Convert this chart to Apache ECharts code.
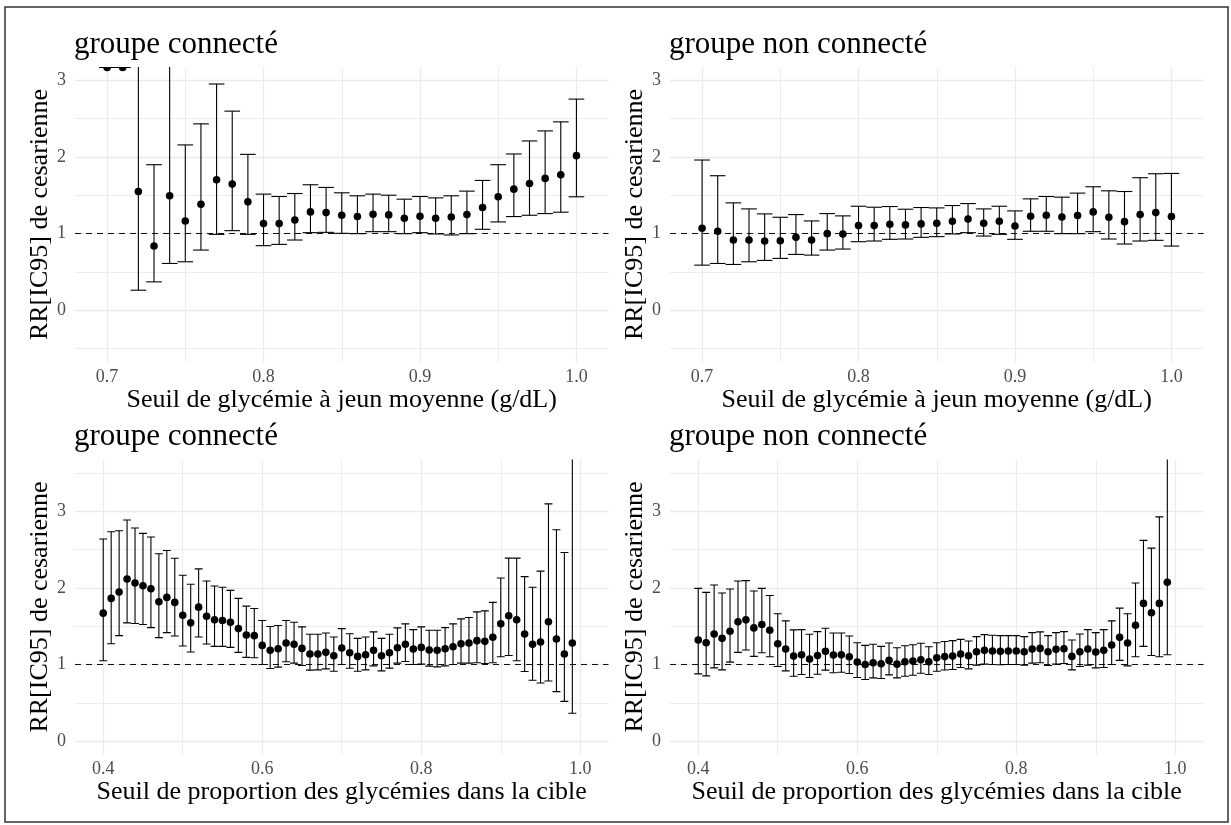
<!DOCTYPE html>
<html><head><meta charset="utf-8">
<script src="https://cdn.jsdelivr.net/npm/echarts@6/dist/echarts.min.js"></script>
<style>html,body{margin:0;padding:0;background:#fff}#c{width:1231px;height:825px}</style>
</head><body><div id="c"></div>
<script>
// ---------- data ----------
const xGly = [0.70,0.71,0.72,0.73,0.74,0.75,0.76,0.77,0.78,0.79,0.80,0.81,0.82,0.83,0.84,0.85,0.86,0.87,0.88,0.89,0.90,0.91,0.92,0.93,0.94,0.95,0.96,0.97,0.98,0.99,1.00];
const xProp = [0.40,0.41,0.42,0.43,0.44,0.45,0.46,0.47,0.48,0.49,0.50,0.51,0.52,0.53,0.54,0.55,0.56,0.57,0.58,0.59,0.60,0.61,0.62,0.63,0.64,0.65,0.66,0.67,0.68,0.69,0.70,0.71,0.72,0.73,0.74,0.75,0.76,0.77,0.78,0.79,0.80,0.81,0.82,0.83,0.84,0.85,0.86,0.87,0.88,0.89,0.90,0.91,0.92,0.93,0.94,0.95,0.96,0.97,0.98,0.99];

// glycémie à jeun – groupe connecté
const rrConnGly = [3.17,3.17,1.55,0.838,1.494,1.166,1.384,1.703,1.647,1.415,1.131,1.131,1.179,1.284,1.275,1.240,1.223,1.253,1.245,1.201,1.227,1.201,1.218,1.249,1.341,1.481,1.581,1.655,1.721,1.769,2.018];
const loConnGly = [3.17,3.17,0.262,0.371,0.611,0.633,0.786,0.991,1.039,0.991,0.843,0.860,0.917,1.013,1.017,1.004,1.0,1.026,1.026,1.0,1.013,0.996,0.983,1.0,1.057,1.153,1.223,1.240,1.262,1.280,1.481];
const hiConnGly = [3.17,3.17,9.2,1.90,3.65,2.158,2.433,2.953,2.599,2.035,1.516,1.485,1.524,1.638,1.603,1.533,1.494,1.516,1.502,1.450,1.485,1.467,1.494,1.555,1.695,1.900,2.040,2.210,2.341,2.459,2.756];

// glycémie à jeun – groupe non connecté
const rrNonGly = [1.070,1.031,0.917,0.917,0.904,0.908,0.952,0.917,1.0,0.996,1.105,1.105,1.122,1.114,1.127,1.135,1.162,1.192,1.135,1.162,1.100,1.227,1.240,1.218,1.236,1.284,1.214,1.157,1.249,1.275,1.223];
const loNonGly = [0.589,0.611,0.598,0.633,0.651,0.677,0.729,0.720,0.786,0.799,0.895,0.904,0.926,0.930,0.952,0.961,0.996,1.013,0.969,0.991,0.926,1.031,1.031,1.0,1.0,1.026,0.930,0.865,0.904,0.913,0.838];
const hiNonGly = [1.961,1.756,1.402,1.323,1.258,1.214,1.249,1.166,1.262,1.232,1.358,1.345,1.354,1.319,1.341,1.336,1.367,1.393,1.323,1.358,1.297,1.454,1.485,1.476,1.529,1.612,1.559,1.550,1.730,1.782,1.786];

// proportion dans la cible – groupe connecté
const rrConnProp = [1.670,1.862,1.945,2.116,2.063,2.028,1.989,1.818,1.875,1.810, 1.643,1.543,1.748,1.630,1.582,1.573,1.551,1.468,1.385,1.376, 1.249,1.184,1.206,1.280,1.263,1.210,1.136,1.136,1.158,1.114, 1.214,1.153,1.105,1.127,1.184,1.114,1.153,1.219,1.263,1.201, 1.223,1.188,1.184,1.206,1.232,1.271,1.280,1.311,1.302,1.355, 1.530,1.635,1.583,1.398,1.263,1.294,1.557,1.333,1.136,1.280];
const loConnProp = [1.048,1.271,1.376,1.543,1.534,1.521,1.481,1.350,1.416,1.372, 1.241,1.162,1.359,1.267,1.236,1.236,1.223,1.158,1.092,1.088, 1.0,0.947,0.965,1.035,1.018,0.987,0.926,0.930,0.943,0.912, 1.0,0.950,0.912,0.930,0.982,0.917,0.952,1.018,1.039,1.0, 1.004,0.978,0.969,0.982,1.0,1.018,1.018,1.022,1.013,1.022, 1.101,1.118,1.048,0.908,0.794,0.759,0.785,0.645,0.518,0.364];
const hiConnProp = [2.637,2.733,2.746,2.886,2.781,2.711,2.663,2.444,2.488,2.387, 2.164,2.046,2.247,2.090,2.024,2.007,1.967,1.862,1.761,1.731, 1.573,1.495,1.508,1.573,1.551,1.490,1.394,1.394,1.411,1.359, 1.468,1.400,1.341,1.359,1.425,1.341,1.394,1.477,1.530,1.455, 1.490,1.446,1.446,1.481,1.530,1.595,1.613,1.687,1.700,1.810, 2.129,2.388,2.388,2.147,2.007,2.218,3.096,2.759,2.461,4.5];

// proportion dans la cible – groupe non connecté
const rrNonProp = [1.319,1.284,1.398,1.341,1.433,1.556,1.582,1.477,1.521,1.446, 1.271,1.201,1.109,1.127,1.070,1.118,1.171,1.123,1.127,1.101, 1.031,1.0,1.022,1.009,1.053,1.004,1.035,1.044,1.061,1.035, 1.088,1.103,1.109,1.136,1.114,1.166,1.184,1.175,1.171,1.175, 1.175,1.166,1.201,1.210,1.166,1.197,1.206,1.105,1.166,1.201, 1.162,1.184,1.254,1.354,1.280,1.512,1.797,1.674,1.797,2.072];
const loNonProp = [0.877,0.851,0.956,0.930,1.031,1.158,1.188,1.105,1.153,1.101, 0.974,0.917,0.847,0.869,0.829,0.873,0.926,0.891,0.899,0.882, 0.829,0.803,0.825,0.816,0.864,0.825,0.847,0.860,0.886,0.869, 0.912,0.928,0.934,0.961,0.943,0.991,1.004,1.0,0.996,1.0, 1.0,0.991,1.018,1.022,0.987,1.004,1.013,0.930,0.974,0.991, 0.956,0.961,1.0,1.053,0.982,1.101,1.236,1.118,1.101,1.127];
const hiNonProp = [1.993,1.941,2.037,1.932,1.985,2.090,2.094,1.958,1.993,1.901, 1.661,1.569,1.451,1.455,1.394,1.429,1.473,1.411,1.411,1.372, 1.284,1.249,1.263,1.236,1.280,1.219,1.245,1.258,1.276,1.232, 1.284,1.300,1.311,1.328,1.306,1.363,1.389,1.381,1.376,1.376, 1.376,1.363,1.416,1.425,1.376,1.416,1.429,1.319,1.398,1.455, 1.416,1.455,1.569,1.735,1.661,2.063,2.619,2.519,2.926,3.81];

// ticks / grid lines
const yTicks = [0, 1, 2, 3];
const yMinorTop = [-0.5, 0.5, 1.5, 2.5];
const yMinorBottom = [0.5, 1.5, 2.5, 3.5];
const xTicksGly = [0.7, 0.8, 0.9, 1.0];
const xMinorGly = [0.75, 0.85, 0.95];
const xTicksProp = [0.4, 0.6, 0.8, 1.0];
const xMinorProp = [0.5, 0.7, 0.9];
const refLine = 1;

const titles = ['groupe connecté', 'groupe non connecté', 'groupe connecté', 'groupe non connecté'];
const xTitleGly = 'Seuil de glycémie à jeun moyenne (g/dL)';
const xTitleProp = 'Seuil de proportion des glycémies dans la cible';
const yTitle = 'RR[IC95] de cesarienne';

// ---------- layout / style ----------
const F = 'Liberation Serif';
const CAP = 0.01; // errorbar width in data units
const panels = [
  {left: 75,  top: 67,    xs: xGly,  rr: rrConnGly,  lo: loConnGly,  hi: hiConnGly,  xr: [0.6795, 1.0205], yr: [-0.675, 3.175], xt: xTicksGly,  xm: xMinorGly,  ym: yMinorTop,    xname: xTitleGly},
  {left: 670, top: 67,    xs: xGly,  rr: rrNonGly,   lo: loNonGly,   hi: hiNonGly,   xr: [0.6795, 1.0205], yr: [-0.675, 3.175], xt: xTicksGly,  xm: xMinorGly,  ym: yMinorTop,    xname: xTitleGly},
  {left: 75,  top: 459.5, xs: xProp, rr: rrConnProp, lo: loConnProp, hi: hiConnProp, xr: [0.3645, 1.0355], yr: [-0.175, 3.675], xt: xTicksProp, xm: xMinorProp, ym: yMinorBottom, xname: xTitleProp},
  {left: 670, top: 459.5, xs: xProp, rr: rrNonProp,  lo: loNonProp,  hi: hiNonProp,  xr: [0.3645, 1.0355], yr: [-0.175, 3.675], xt: xTicksProp, xm: xMinorProp, ym: yMinorBottom, xname: xTitleProp}
];
const PW = 533.5, PH = 295;

function renderItem(params, api) {
  const x = api.value(0), m = api.value(1), lo = api.value(2), hi = api.value(3);
  const pM = api.coord([x, m]);
  const pLo = api.coord([x, lo]);
  const pHi = api.coord([x, hi]);
  const xl = api.coord([x - CAP / 2, lo])[0];
  const xr = api.coord([x + CAP / 2, lo])[0];
  const st = {stroke: '#000', lineWidth: 1.1, fill: null};
  return {type: 'group', children: [
    {type: 'line', shape: {x1: pLo[0], y1: pLo[1], x2: pHi[0], y2: pHi[1]}, style: st},
    {type: 'line', shape: {x1: xl, y1: pLo[1], x2: xr, y2: pLo[1]}, style: st},
    {type: 'line', shape: {x1: xl, y1: pHi[1], x2: xr, y2: pHi[1]}, style: st},
    {type: 'circle', shape: {cx: pM[0], cy: pM[1], r: 3.8}, style: {fill: '#000', stroke: null}}
  ]};
}

const grid = [], xAxis = [], yAxis = [], series = [], title = [];
panels.forEach((p, i) => {
  grid.push({left: p.left, top: p.top, width: PW, height: PH});
  title.push({text: titles[i], left: p.left - 1, top: p.top - 38, padding: 0,
    textStyle: {fontFamily: F, fontSize: 31, fontWeight: 'normal', color: '#000'}});
  xAxis.push({type: 'value', gridIndex: i, min: p.xr[0], max: p.xr[1],
    axisLine: {show: false}, axisTick: {show: false}, splitLine: {show: false},
    axisLabel: {customValues: p.xt, formatter: v => v.toFixed(1), color: '#4D4D4D',
      fontFamily: F, fontSize: 18, margin: 6},
    name: p.xname, nameLocation: 'middle', nameGap: 22,
    nameTextStyle: {fontFamily: F, fontSize: 26, color: '#000'}});
  yAxis.push({type: 'value', gridIndex: i, min: p.yr[0], max: p.yr[1],
    axisLine: {show: false}, axisTick: {show: false}, splitLine: {show: false},
    axisLabel: {customValues: yTicks, formatter: v => String(v), color: '#4D4D4D',
      fontFamily: F, fontSize: 18, margin: 9},
    name: yTitle, nameLocation: 'middle', nameGap: 17,
    nameTextStyle: {fontFamily: F, fontSize: 26, color: '#000'}});
  const gl = [];
  p.xm.forEach(v => gl.push({xAxis: v, lineStyle: {color: '#EDEDED', width: 1, type: 'solid'}}));
  p.ym.forEach(v => gl.push({yAxis: v, lineStyle: {color: '#EDEDED', width: 1, type: 'solid'}}));
  p.xt.forEach(v => gl.push({xAxis: v, lineStyle: {color: '#EBEBEB', width: 1.3, type: 'solid'}}));
  yTicks.forEach(v => gl.push({yAxis: v, lineStyle: {color: '#EBEBEB', width: 1.3, type: 'solid'}}));
  gl.push({yAxis: refLine, lineStyle: {color: '#111', width: 1.1, type: [6, 5]}});
  series.push({
    type: 'custom', xAxisIndex: i, yAxisIndex: i, clip: true, z: 3,
    renderItem: renderItem,
    encode: {x: 0, y: [1, 2, 3]},
    data: p.xs.map((x, k) => [x, p.rr[k], p.lo[k], p.hi[k]]),
    animation: false, silent: true,
    markLine: {silent: true, symbol: ['none', 'none'], z: 1, animation: false,
      label: {show: false}, emphasis: {disabled: true}, data: gl}
  });
});

const chart = echarts.init(document.getElementById('c'), null, {renderer: 'canvas'});
chart.setOption({
  backgroundColor: '#fff', animation: false,
  title, grid, xAxis, yAxis, series,
  graphic: [{type: 'rect', shape: {x: 5, y: 7, width: 1223, height: 815},
    style: {fill: null, stroke: '#333', lineWidth: 1.5}, silent: true}]
});
</script></body></html>
